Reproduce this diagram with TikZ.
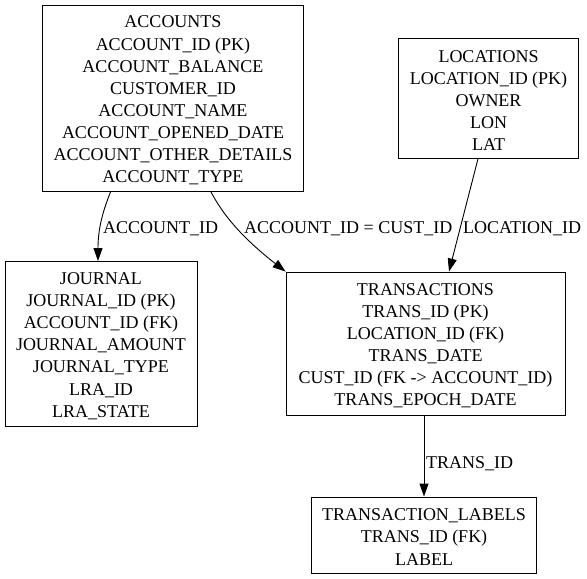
\documentclass[tikz,border=0pt]{standalone}
\usepackage{fontspec}
\setmainfont{Liberation Serif}
\usetikzlibrary{arrows.meta,calc}
\begin{document}
\begin{tikzpicture}[x=1bp,y=-1bp,
  entity/.style={draw, line width=0.9bp, inner sep=0pt},
  etext/.style={inner sep=0pt, align=center,
    font=\fontsize{18bp}{22.1bp}\selectfont},
  lbl/.style={inner sep=0pt, font=\fontsize{18bp}{22bp}\selectfont},
  edge/.style={line width=0.9bp, -{Triangle[length=13bp,width=9bp]}}]
\useasboundingbox (0,0) rectangle (587,579);
\node[entity, minimum width=261bp, minimum height=186bp] (acc) at (173,98.5) {};
\node[etext] (acct) at ($(acc.center)+(0,2)$)
  {ACCOUNTS\\ACCOUNT\_ID (PK)\\ACCOUNT\_BALANCE\\CUSTOMER\_ID\\ACCOUNT\_NAME\\ACCOUNT\_OPENED\_DATE\\ACCOUNT\_OTHER\_DETAILS\\ACCOUNT\_TYPE};
\node[entity, minimum width=180bp, minimum height=120bp] (loc) at (488.5,98.3) {};
\node[etext] (loct) at ($(loc.center)+(0,2)$)
  {LOCATIONS\\LOCATION\_ID (PK)\\OWNER\\LON\\LAT};
\node[entity, minimum width=192bp, minimum height=165bp] (jour) at (101,344) {};
\node[etext] (jourt) at ($(jour.center)+(0,2)$)
  {JOURNAL\\JOURNAL\_ID (PK)\\ACCOUNT\_ID (FK)\\JOURNAL\_AMOUNT\\JOURNAL\_TYPE\\LRA\_ID\\LRA\_STATE};
\node[entity, minimum width=279bp, minimum height=143bp] (tr) at (425.5,343.5) {};
\node[etext] (trt) at ($(tr.center)+(0,2)$)
  {TRANSACTIONS\\TRANS\_ID (PK)\\LOCATION\_ID (FK)\\TRANS\_DATE\\CUST\_ID (FK -> ACCOUNT\_ID)\\TRANS\_EPOCH\_DATE};
\node[entity, minimum width=225bp, minimum height=76bp] (lab) at (424,535) {};
\node[etext] (labt) at ($(lab.center)+(0,2)$)
  {TRANSACTION\_LABELS\\TRANS\_ID (FK)\\LABEL};
\draw[edge] ($(acc.south)+(-62.5,0)$) .. controls (103,211) and (98,228) .. ($(jour.north)+(-3,0)$);
\draw[edge] ($(acc.south)+(38,0)$) .. controls (222,213) and (240,236) .. (tr.north west);
\draw[edge] ($(loc.south)+(-10.5,0)$) -- ($(tr.north)+(23.5,0)$);
\draw[edge] ($(tr.south)+(-1.5,0)$) -- (lab.north);
\node[lbl, anchor=west] (l1) at (103,229) {ACCOUNT\_ID};
\node[lbl, anchor=west] (l2) at (244,229) {ACCOUNT\_ID = CUST\_ID};
\node[lbl, anchor=west] (l3) at (463,229) {LOCATION\_ID};
\node[lbl, anchor=west] (l4) at (426,464) {TRANS\_ID};
\end{tikzpicture}
\end{document}
